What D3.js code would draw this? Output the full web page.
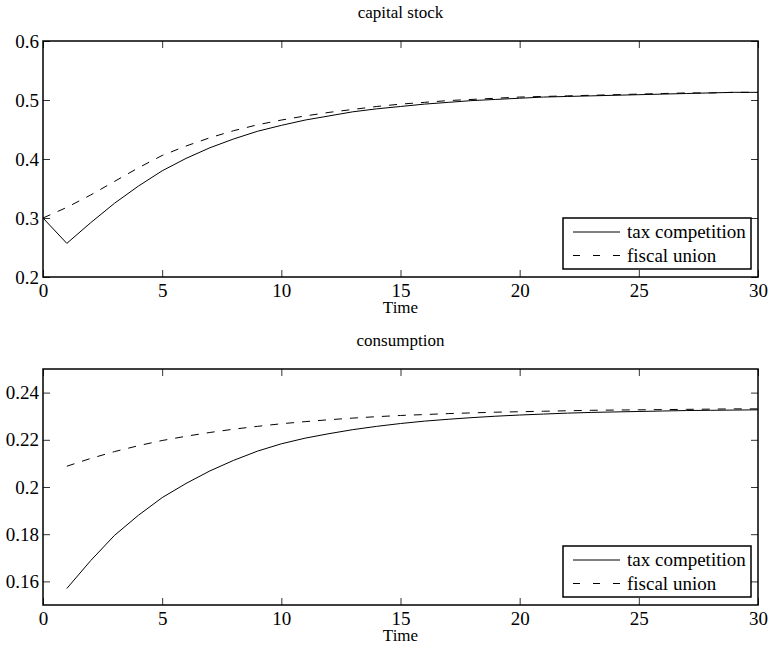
<!DOCTYPE html>
<html lang="en">
<head>
  <meta charset="UTF-8">
  <title>capital stock / consumption</title>
  <script src="https://cdn.jsdelivr.net/npm/d3@7"></script>
  <style>
    body { margin: 0; background: #fff; }
    svg text { font-family: "Liberation Serif", "Times New Roman", Times, serif; fill: #000; }
  </style>
</head>
<body>
  <svg width="771" height="648"></svg>
<script>
  // periods 0..30
  const time = d3.range(0, 31);
  const xTicks = [0, 5, 10, 15, 20, 25, 30];

  // capital stock (t = 0..30)
  const capitalTax = [0.300, 0.257, 0.292, 0.325, 0.354, 0.380, 0.401, 0.419, 0.434, 0.447,
    0.457, 0.466, 0.473, 0.480, 0.485, 0.489, 0.493, 0.496, 0.499, 0.501,
    0.503, 0.505, 0.506, 0.507, 0.508, 0.509, 0.510, 0.511, 0.512, 0.513, 0.513];
  const capitalUnion = [0.300, 0.318, 0.339, 0.362, 0.385, 0.406, 0.422, 0.436, 0.448, 0.458,
    0.466, 0.473, 0.479, 0.484, 0.489, 0.493, 0.496, 0.499, 0.501, 0.503,
    0.505, 0.506, 0.507, 0.508, 0.509, 0.510, 0.511, 0.512, 0.512, 0.513, 0.513];
  const capitalTicks = [0.2, 0.3, 0.4, 0.5, 0.6];

  // consumption (t = 1..30)
  const consTax = [0.1570, 0.1688, 0.1795, 0.1880, 0.1955, 0.2015, 0.2068, 0.2113, 0.2152, 0.2183,
    0.2207, 0.2226, 0.2243, 0.2257, 0.2269, 0.2279, 0.2287, 0.2294, 0.2300, 0.2305,
    0.2309, 0.2313, 0.2316, 0.2318, 0.2320, 0.2322, 0.2324, 0.2325, 0.2326, 0.2327];
  const consUnion = [0.2088, 0.2121, 0.2150, 0.2175, 0.2197, 0.2215, 0.2231, 0.2245, 0.2257, 0.2268,
    0.2277, 0.2285, 0.2292, 0.2298, 0.2303, 0.2307, 0.2311, 0.2314, 0.2317, 0.2319,
    0.2321, 0.2323, 0.2325, 0.2326, 0.2327, 0.2328, 0.2329, 0.2330, 0.2331, 0.2331];
  const consTicks = [0.16, 0.18, 0.2, 0.22, 0.24];

  const seriesNames = ["tax competition", "fiscal union"];

  const svg = d3.select("svg");
  const serif = "'Liberation Serif', 'Times New Roman', Times, serif";
  const fontSize = 19;
  const tickLen = 7;
  const left = 43, right = 758;

  const x = d3.scaleLinear().domain([0, 30]).range([left, right]);

  function panel(opts) {
    const y = d3.scaleLinear().domain(opts.yDomain).range([opts.bottom, opts.top]);
    const g = svg.append("g");
    const fmt = d => String(+d.toFixed(2));

    // ticks on all four sides, pointing inward
    g.append("g")
      .attr("transform", "translate(0," + opts.bottom + ")")
      .call(d3.axisBottom(x).tickValues(xTicks).tickSize(-tickLen).tickSizeOuter(0).tickPadding(7).tickFormat(fmt));
    g.append("g")
      .attr("transform", "translate(0," + opts.top + ")")
      .call(d3.axisTop(x).tickValues(xTicks).tickSize(-tickLen).tickSizeOuter(0).tickFormat(""));
    g.append("g")
      .attr("transform", "translate(" + left + ",0)")
      .call(d3.axisLeft(y).tickValues(opts.yTicks).tickSize(-tickLen).tickSizeOuter(0).tickPadding(4).tickFormat(fmt));
    g.append("g")
      .attr("transform", "translate(" + right + ",0)")
      .call(d3.axisRight(y).tickValues(opts.yTicks).tickSize(-tickLen).tickSizeOuter(0).tickFormat(""));

    g.selectAll(".domain").remove();
    g.selectAll("g").attr("font-family", serif).attr("font-size", fontSize);
    g.selectAll(".tick line").attr("stroke", "#333").attr("stroke-width", 1);
    g.selectAll(".tick text")
      .attr("font-family", serif)
      .style("font-size", fontSize + "px")
      .attr("fill", "#000");

    // data lines
    const line = d3.line().x(d => x(d[0])).y(d => y(d[1]));
    const tSeries = opts.times;
    g.append("path")
      .datum(tSeries.map((t, i) => [t, opts.tax[i]]))
      .attr("d", line).attr("fill", "none").attr("stroke", "#000").attr("stroke-width", 1);
    g.append("path")
      .datum(tSeries.map((t, i) => [t, opts.union[i]]))
      .attr("d", line).attr("fill", "none").attr("stroke", "#000").attr("stroke-width", 1)
      .attr("stroke-dasharray", "8,8");

    // frame
    g.append("rect")
      .attr("x", left).attr("y", opts.top)
      .attr("width", right - left).attr("height", opts.bottom - opts.top)
      .attr("fill", "none").attr("stroke", "#000").attr("stroke-width", 1.5);

    // title and x label
    g.append("text")
      .attr("x", (left + right) / 2).attr("y", opts.top - 23)
      .attr("text-anchor", "middle")
      .attr("font-family", serif).style("font-size", "17px")
      .text(opts.title);
    g.append("text")
      .attr("x", (left + right) / 2).attr("y", opts.bottom + 36)
      .attr("text-anchor", "middle")
      .attr("font-family", serif).style("font-size", "17px")
      .text("Time");

    // legend, lower right
    const lw = 188, lh = 51;
    const lx = right - 7 - lw, ly = opts.bottom - 8 - lh;
    const lg = g.append("g").attr("transform", "translate(" + lx + "," + ly + ")");
    lg.append("rect").attr("width", lw).attr("height", lh)
      .attr("fill", "#fff").attr("stroke", "#000").attr("stroke-width", 1.5);
    seriesNames.forEach((name, i) => {
      const cy = 14 + i * 23.5;
      lg.append("line")
        .attr("x1", 10).attr("x2", 57).attr("y1", cy).attr("y2", cy)
        .attr("stroke", "#000").attr("stroke-width", 1)
        .attr("stroke-dasharray", i === 1 ? "7,13" : null);
      lg.append("text")
        .attr("x", 64).attr("y", cy + 6)
        .attr("font-family", serif)
        .style("font-size", fontSize + "px")
        .text(name);
    });
  }

  panel({
    title: "capital stock", top: 41, bottom: 277,
    yDomain: [0.2, 0.6], yTicks: capitalTicks,
    times: time, tax: capitalTax, union: capitalUnion
  });

  panel({
    title: "consumption", top: 369, bottom: 605,
    yDomain: [0.15, 0.25], yTicks: consTicks,
    times: time.slice(1), tax: consTax, union: consUnion
  });
</script>
</body>
</html>
